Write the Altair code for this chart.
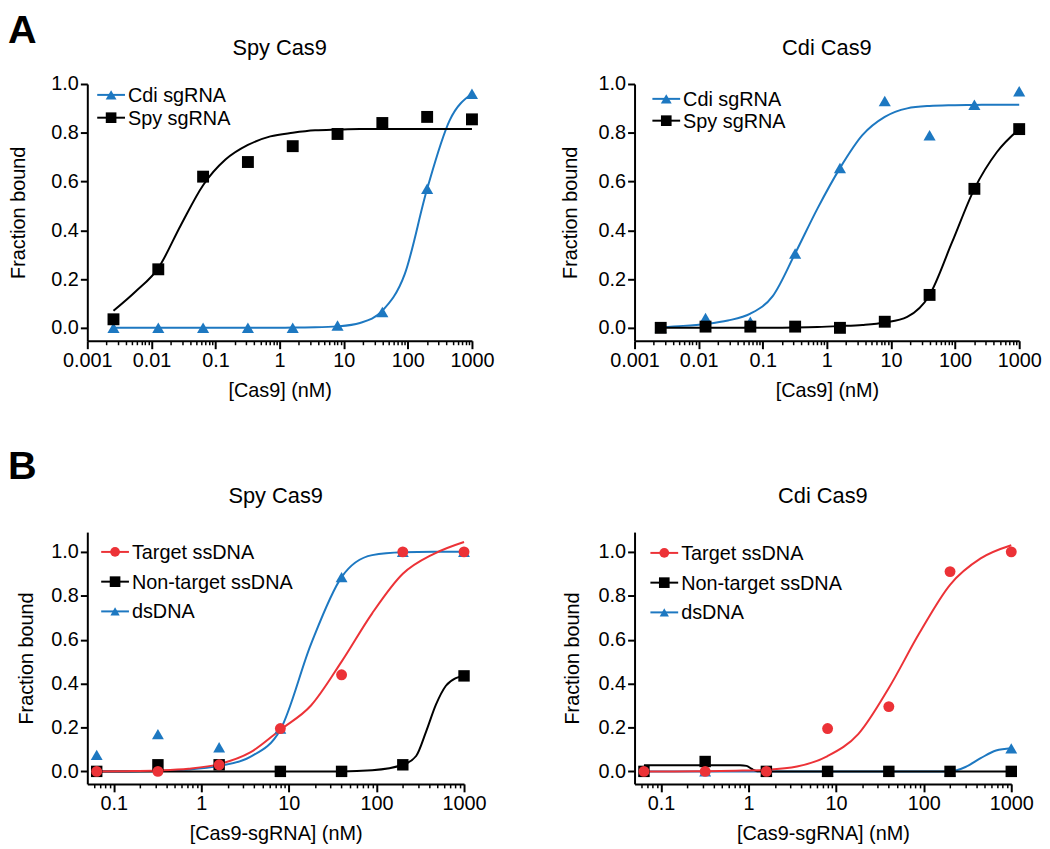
import altair as alt
import pandas as pd

FONT = "Liberation Sans"
BLUE = "#1d78c1"
RED = "#ec3237"
BLACK = "#000000"

# ---------------- Panel A : Cas9 binding to sgRNA ----------------
conc_a = [0.00256, 0.0128, 0.064, 0.32, 1.6, 8, 40, 200, 1000]
# Spy Cas9
spy_cdi_sgrna = [0.0, 0.0, 0.0, 0.0, 0.0, 0.01, 0.065, 0.57, 0.96]
spy_spy_sgrna = [0.035, 0.24, 0.62, 0.68, 0.745, 0.795, 0.84, 0.865, 0.855]
# Cdi Cas9
cdi_cdi_sgrna = [0.0, 0.04, 0.025, 0.305, 0.655, 0.93, 0.79, 0.915, 0.97]
cdi_spy_sgrna = [0.0, 0.005, 0.005, 0.005, 0.0, 0.025, 0.135, 0.57, 0.815]

# fitted curves
fit_conc_a = [0.00256, 0.00572, 0.0128, 0.0286, 0.064, 0.143, 0.32, 0.716, 1.6,
              3.58, 8, 17.9, 40, 89.4, 200, 447, 1000]
fit_spy_cdi_sgrna = [0.0, 0.0, 0.0, 0.0, 0.0, 0.0, 0.0, 0.0, 0.001,
                     0.002, 0.006, 0.02, 0.07, 0.22, 0.57, 0.85, 0.96]
fit_spy_spy_sgrna = [0.07, 0.15, 0.245, 0.42, 0.585, 0.69, 0.75, 0.785, 0.80,
                     0.81, 0.813, 0.815, 0.815, 0.815, 0.815, 0.815, 0.815]
fit_cdi_cdi_sgrna = [0.003, 0.008, 0.016, 0.03, 0.058, 0.13, 0.305, 0.49, 0.655,
                     0.79, 0.865, 0.9, 0.91, 0.913, 0.914, 0.915, 0.915]
fit_cdi_spy_sgrna = [0.0, 0.0, 0.0, 0.0, 0.0, 0.0, 0.001, 0.003, 0.007,
                     0.012, 0.022, 0.045, 0.135, 0.35, 0.57, 0.72, 0.815]

# ---------------- Panel B : Cas9-sgRNA binding to DNA ----------------
conc_b = [0.064, 0.32, 1.6, 8, 40, 200, 1000]
spy_target = [0.0, 0.0, 0.03, 0.195, 0.44, 1.0, 1.0]
spy_nontarget = [0.0, 0.03, 0.03, 0.0, 0.0, 0.03, 0.435]
spy_ds = [0.075, 0.17, 0.11, 0.195, 0.885, 1.0, 1.0]
cdi_target = [0.0, 0.0, 0.0, 0.195, 0.295, 0.91, 1.0]
cdi_nontarget = [0.0, 0.045, 0.0, 0.0, 0.0, 0.0, 0.0]
cdi_ds = [0.0, 0.0, 0.0, 0.0, 0.0, 0.0, 0.105]

fit_conc_b = [0.064, 0.143, 0.32, 0.716, 1.6, 3.58, 8, 17.9, 40, 89.4, 200, 447, 1000]
fit_spy_target = [0.0, 0.001, 0.004, 0.012, 0.033, 0.085, 0.19, 0.3, 0.5, 0.72, 0.9, 0.99, 1.045]
fit_spy_ds = [0.0, 0.0, 0.002, 0.008, 0.025, 0.065, 0.19, 0.58, 0.885, 0.985, 0.998, 1.0, 1.0]
fit_conc_spy_nontarget = [0.064, 0.32, 1.6, 8, 40, 89.4, 200, 284, 368, 479, 621, 807, 1000]
fit_spy_nontarget = [0.0, 0.0, 0.0, 0.0, 0.0, 0.005, 0.03, 0.07, 0.18, 0.305, 0.39, 0.425, 0.435]
fit_cdi_target = [0.0, 0.0, 0.001, 0.003, 0.007, 0.022, 0.07, 0.17, 0.38, 0.63, 0.85, 0.97, 1.03]
fit_conc_cdi_nontarget = [0.064, 0.32, 0.8, 0.95, 1.08, 1.25, 1.6, 8, 40, 200, 1000]
fit_cdi_nontarget = [0.028, 0.028, 0.028, 0.025, 0.012, 0.001, 0.0, 0.0, 0.0, 0.0, 0.0]
fit_conc_cdi_ds = [0.064, 1.6, 8, 40, 200, 300, 447, 670, 1000]
fit_cdi_ds = [0.0, 0.0, 0.0, 0.0, 0.0, 0.02, 0.06, 0.095, 0.105]

series_a = ["Cdi sgRNA", "Spy sgRNA"]
series_b = ["Target ssDNA", "Non-target ssDNA", "dsDNA"]
panel_titles = ["Spy Cas9", "Cdi Cas9"]
panel_letters = ["A", "B"]
x_title_a = "[Cas9] (nM)"
x_title_b = "[Cas9-sgRNA] (nM)"
y_title = "Fraction bound"

major_a = [0.001, 0.01, 0.1, 1, 10, 100, 1000]
major_b = [0.1, 1, 10, 100, 1000]
y_ticks = [0.0, 0.2, 0.4, 0.6, 0.8, 1.0]


def minor_ticks(decades, start=None):
    vals = []
    for d in decades:
        for m in range(2, 10):
            vals.append(round(d * m, 6))
    if start is not None:
        vals = start + vals
    return vals


minor_a = minor_ticks([0.001, 0.01, 0.1, 1, 10, 100])
minor_b = minor_ticks([0.1, 1, 10, 100], start=[0.06, 0.07, 0.08, 0.09])


def long(series_names, xs_list, ys_list):
    rows = []
    for name, xs, ys in zip(series_names, xs_list, ys_list):
        for x, y in zip(xs, ys):
            rows.append({"series": name, "x": x, "y": y})
    return pd.DataFrame(rows)


def text_layer(txt, x, y, size, weight="normal", align="center", baseline="middle"):
    return alt.Chart(pd.DataFrame({"t": [txt]})).mark_text(
        fontSize=size, fontWeight=weight, align=align, baseline=baseline,
        font=FONT, color=BLACK).encode(text="t:N", x=alt.value(x), y=alt.value(y))


def legend_layers(order, colors, shapes, sizes, x0, y0, dy):
    out = []
    for i, (name, col, shp, sz) in enumerate(zip(order, colors, shapes, sizes)):
        yy = y0 + i * dy
        one = pd.DataFrame({"series": [name]})
        out.append(alt.Chart(one).mark_rule(strokeWidth=2, color=col).encode(
            x=alt.value(x0 - 14), x2=alt.value(x0 + 14), y=alt.value(yy)))
        out.append(alt.Chart(one).mark_point(shape=shp, filled=True, size=sz,
                                             color=col, opacity=1).encode(
            x=alt.value(x0), y=alt.value(yy)))
        out.append(alt.Chart(one).mark_text(align="left", baseline="middle",
                                            fontSize=20, font=FONT, color=BLACK).encode(
            text="series:N", x=alt.value(x0 + 17), y=alt.value(yy + 1)))
    return out


def panel(points, fits, order, colors, shapes, sizes, xdom, ydom,
          major, minor, xtitle, title, width, height, leg_x, leg_y, leg_dy,
          y_title_pad, title_y, letter=None, letter_y=-73):
    xscale = alt.Scale(type="log", domain=xdom, nice=False)
    yscale = alt.Scale(domain=ydom, nice=False, zero=False)
    yaxis = alt.Axis(values=y_ticks, format=".1f", title=y_title, tickSize=7,
                     tickWidth=2, domainWidth=2, labelFontSize=20,
                     titleFontSize=20, titleFontWeight="normal", labelPadding=2,
                     titlePadding=y_title_pad, grid=False, domainColor=BLACK,
                     tickColor=BLACK, labelColor=BLACK, titleColor=BLACK,
                     labelFont=FONT, titleFont=FONT)
    major_axis = alt.Axis(values=major, format="~g", title=xtitle, tickSize=8,
                          tickWidth=2, domainWidth=2, labelFontSize=20,
                          titleFontSize=20, titleFontWeight="normal",
                          labelPadding=2, titlePadding=10, grid=False,
                          domainColor=BLACK, tickColor=BLACK, labelColor=BLACK,
                          titleColor=BLACK, orient="bottom", labelFont=FONT,
                          titleFont=FONT, labelFlush=False)
    minor_axis = alt.Axis(values=minor, labels=False, domain=False, tickSize=4,
                          tickWidth=1.5, tickColor=BLACK, grid=False,
                          orient="bottom", title=None)
    color_scale = alt.Scale(domain=order, range=colors)

    lines = alt.Chart(fits).mark_line(strokeWidth=2, interpolate="monotone").encode(
        x=alt.X("x:Q", scale=xscale, axis=major_axis),
        y=alt.Y("y:Q", scale=yscale, axis=yaxis),
        color=alt.Color("series:N", scale=color_scale, legend=None),
        detail="series:N",
    )
    pts = alt.Chart(points).mark_point(filled=True, opacity=1).encode(
        x=alt.X("x:Q", scale=xscale, axis=minor_axis),
        y=alt.Y("y:Q", scale=yscale, axis=yaxis),
        color=alt.Color("series:N", scale=color_scale, legend=None),
        shape=alt.Shape("series:N", scale=alt.Scale(domain=order, range=shapes), legend=None),
        size=alt.Size("series:N", scale=alt.Scale(domain=order, range=sizes), legend=None),
    )
    layers = [lines, pts]
    layers += legend_layers(order, colors, shapes, [s * 0.8 for s in sizes],
                            leg_x, leg_y, leg_dy)
    layers.append(text_layer(title, width / 2, title_y, 22))
    if letter is not None:
        layers.append(text_layer(letter, -80, letter_y, 40, weight="bold",
                                 align="left", baseline="top"))
    return alt.layer(*layers).resolve_axis(x="independent").properties(
        width=width, height=height)


# ---- Panel A (blue series first so black draws on top) ----
a_colors = [BLUE, BLACK]
a_shapes = ["triangle-up", "square"]
a_sizes = [150, 144]

a1_pts = long(series_a, [conc_a, conc_a], [spy_cdi_sgrna, spy_spy_sgrna])
a1_fit = long(series_a, [fit_conc_a, fit_conc_a], [fit_spy_cdi_sgrna, fit_spy_spy_sgrna])
a2_pts = long(series_a, [conc_a, conc_a], [cdi_cdi_sgrna, cdi_spy_sgrna])
a2_fit = long(series_a, [fit_conc_a, fit_conc_a], [fit_cdi_cdi_sgrna, fit_cdi_spy_sgrna])

# ---- Panel B (dsDNA first, then non-target, target on top) ----
b_draw = ["dsDNA", "Non-target ssDNA", "Target ssDNA"]
b_colors = [RED, BLACK, BLUE]
b_shapes = ["circle", "square", "triangle-up"]
b_sizes = [121, 144, 110]

b1_pts = long(b_draw, [conc_b] * 3, [spy_ds, spy_nontarget, spy_target])
b1_fit = long(b_draw, [fit_conc_b, fit_conc_spy_nontarget, fit_conc_b],
              [fit_spy_ds, fit_spy_nontarget, fit_spy_target])
b2_pts = long(b_draw, [conc_b] * 3, [cdi_ds, cdi_nontarget, cdi_target])
b2_fit = long(b_draw, [fit_conc_cdi_ds, fit_conc_cdi_nontarget, fit_conc_b],
              [fit_cdi_ds, fit_cdi_nontarget, fit_cdi_target])

dom_a = [0.001, 1000]
dom_b = [0.05, 1000]
ydom_a = [-0.053, 1.0]
ydom_b = [-0.057, 1.09]

A1 = panel(a1_pts, a1_fit, series_a, a_colors, a_shapes, a_sizes, dom_a, ydom_a,
           major_a, minor_a, x_title_a, panel_titles[0], 388, 259, 24, 11, 23, 23, -36,
           letter=panel_letters[0], letter_y=-73)
A2 = panel(a2_pts, a2_fit, series_a, a_colors, a_shapes, a_sizes, dom_a, ydom_a,
           major_a, minor_a, x_title_a, panel_titles[1], 388, 259, 32, 15, 22, 18, -36)
B1 = panel(b1_pts, b1_fit, series_b, b_colors, b_shapes, b_sizes, dom_b, ydom_b,
           major_b, minor_b, x_title_b, panel_titles[0], 380, 254, 28, 20, 30, 14, -36,
           letter=panel_letters[1], letter_y=-86)
B2 = panel(b2_pts, b2_fit, series_b, b_colors, b_shapes, b_sizes, dom_b, ydom_b,
           major_b, minor_b, x_title_b, panel_titles[1], 380, 254, 30, 21, 30, 16, -36)

chart = alt.concat(A1, A2, B1, B2, columns=2, spacing={"row": 193, "column": 164},
                   bounds="flush", align="all").resolve_scale(
    color="independent", shape="independent", size="independent").properties(
    padding=0).configure(font=FONT).configure_view(stroke=None)

chart.save("out.html", embed_options={"renderer": "svg", "actions": False})
